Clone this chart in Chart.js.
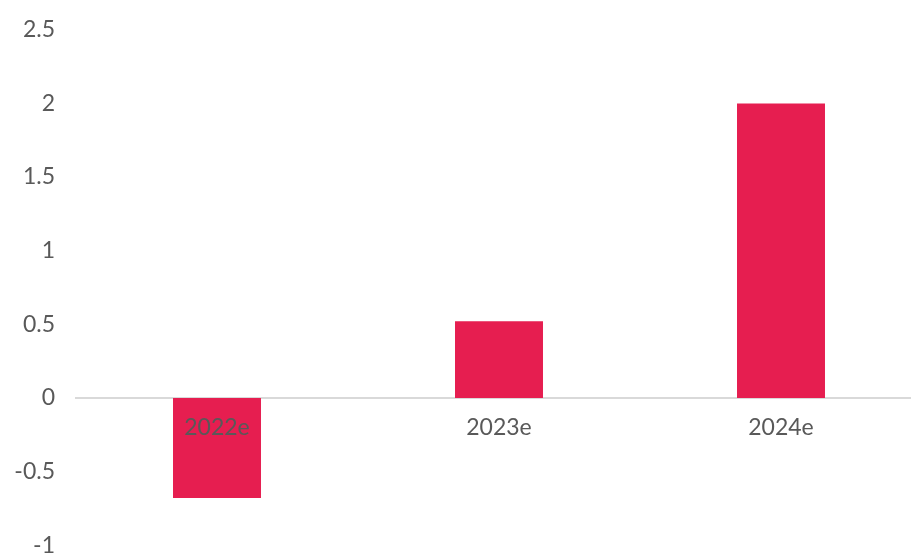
<!DOCTYPE html>
<html>
<head>
<meta charset="utf-8">
<script src="https://cdn.jsdelivr.net/npm/chart.js@4/dist/chart.umd.min.js"></script>
<style>
html,body{margin:0;padding:0;background:#fff;overflow:hidden;}
#wrap{width:911px;height:557px;overflow:hidden;position:relative;}
canvas{position:absolute;left:0;top:-5px;}
</style>
</head>
<body>
<div id="wrap"><canvas id="c" width="922" height="585"></canvas></div>
<script>
const categories = ["2022e", "2023e", "2024e"];
const values = [-0.68, 0.52, 2.0];
const yTickValues = [-1, -0.5, 0, 0.5, 1, 1.5, 2, 2.5];
const yTickLabels = ["-1", "-0.5", "0", "0.5", "1", "1.5", "2", "2.5"];

const FONT = {family: "Lato, 'Open Sans', sans-serif", size: 23, weight: 400};
const GREY = "#595959";

new Chart(document.getElementById("c"), {
  type: "bar",
  data: {
    labels: categories,
    datasets: [{
      data: values,
      backgroundColor: "#E61E50",
      borderWidth: 0,
      categoryPercentage: 1,
      barPercentage: 0.312
    }]
  },
  options: {
    responsive: false,
    animation: false,
    devicePixelRatio: 1,
    layout: {padding: {top: 12.5, right: 0, bottom: 11, left: 0}},
    plugins: {legend: {display: false}, tooltip: {enabled: false}},
    scales: {
      x: {
        position: {y: 0},
        offset: true,
        afterFit: (s) => { s.height = 0; },
        grid: {display: false, drawTicks: false},
        border: {display: true, color: "#D9D9D9", width: 2},
        ticks: {color: GREY, font: FONT, padding: 16, maxRotation: 0, z: 1}
      },
      y: {
        min: -1,
        max: 2.5,
        grid: {display: false, drawTicks: false},
        border: {display: false},
        afterBuildTicks: (s) => { s.ticks = yTickValues.map(v => ({value: v})); },
        afterFit: (s) => { s.width = 76; },
        ticks: {
          color: GREY, font: FONT, padding: 21,
          callback: (v) => yTickLabels[yTickValues.indexOf(v)]
        }
      }
    }
  }
});
</script>
</body>
</html>
